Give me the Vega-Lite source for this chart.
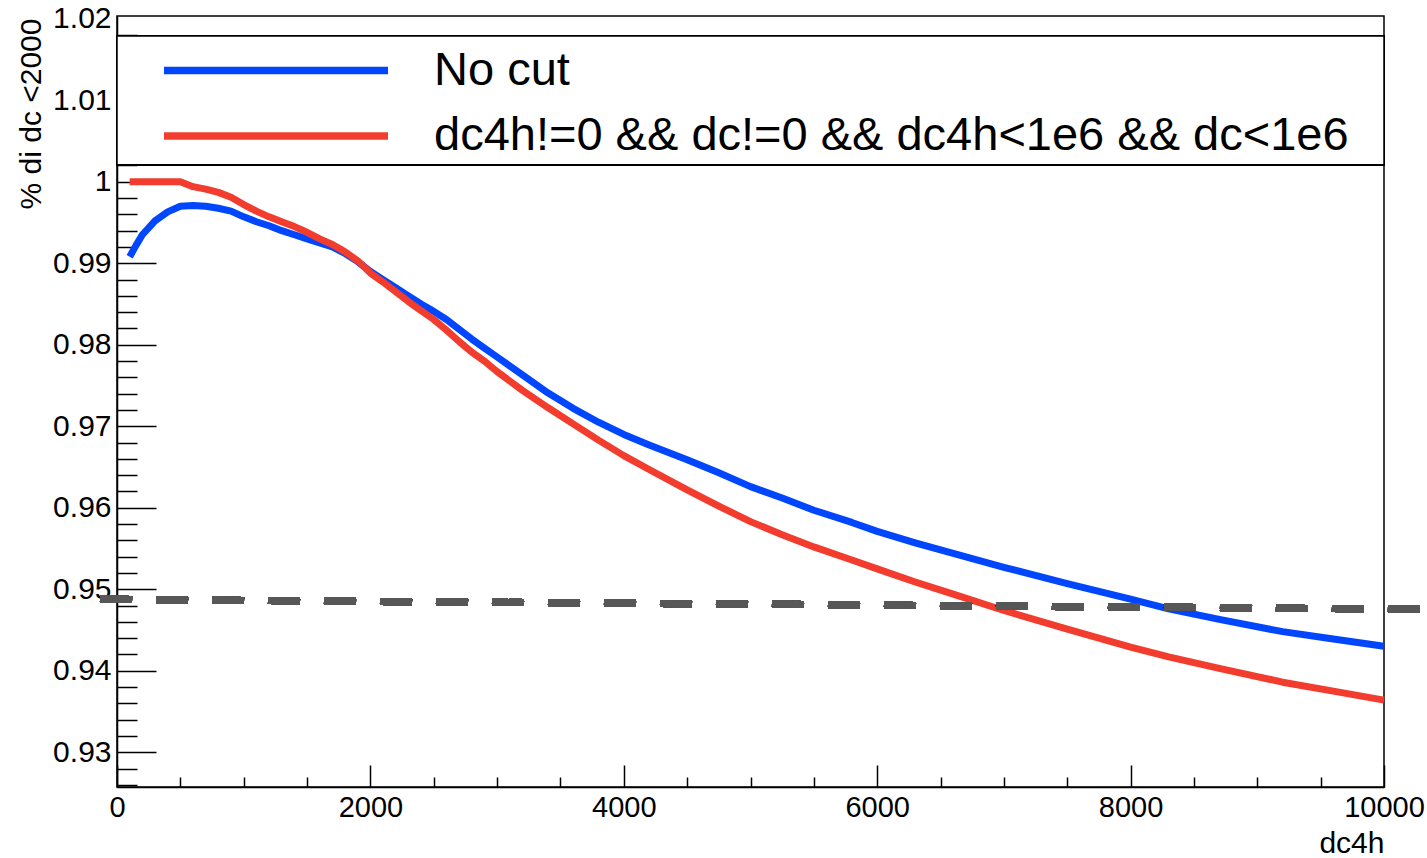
{
  "$schema": "https://vega.github.io/schema/vega-lite/v6.json",
  "width": 1267,
  "height": 771,
  "autosize": {"type": "none"},
  "padding": {"left": 117, "top": 16, "right": 43, "bottom": 71},
  "background": "white",
  "config": {
    "view": {"stroke": "black", "strokeWidth": 1.5},
    "font": "Liberation Sans"
  },
  "datasets": {
    "curves": [
      {"dc4h": 100, "frac": 0.9908, "series": "No cut"},
      {"dc4h": 150, "frac": 0.9922, "series": "No cut"},
      {"dc4h": 200, "frac": 0.9935, "series": "No cut"},
      {"dc4h": 300, "frac": 0.9952, "series": "No cut"},
      {"dc4h": 400, "frac": 0.9963, "series": "No cut"},
      {"dc4h": 500, "frac": 0.9970, "series": "No cut"},
      {"dc4h": 600, "frac": 0.9971, "series": "No cut"},
      {"dc4h": 700, "frac": 0.9970, "series": "No cut"},
      {"dc4h": 800, "frac": 0.99675, "series": "No cut"},
      {"dc4h": 900, "frac": 0.9964, "series": "No cut"},
      {"dc4h": 1000, "frac": 0.9957, "series": "No cut"},
      {"dc4h": 1100, "frac": 0.9951, "series": "No cut"},
      {"dc4h": 1200, "frac": 0.9946, "series": "No cut"},
      {"dc4h": 1300, "frac": 0.9940, "series": "No cut"},
      {"dc4h": 1400, "frac": 0.9935, "series": "No cut"},
      {"dc4h": 1500, "frac": 0.9930, "series": "No cut"},
      {"dc4h": 1600, "frac": 0.9925, "series": "No cut"},
      {"dc4h": 1700, "frac": 0.9920, "series": "No cut"},
      {"dc4h": 1800, "frac": 0.9912, "series": "No cut"},
      {"dc4h": 1900, "frac": 0.9902, "series": "No cut"},
      {"dc4h": 2000, "frac": 0.9890, "series": "No cut"},
      {"dc4h": 2100, "frac": 0.9880, "series": "No cut"},
      {"dc4h": 2200, "frac": 0.9870, "series": "No cut"},
      {"dc4h": 2300, "frac": 0.9860, "series": "No cut"},
      {"dc4h": 2400, "frac": 0.9850, "series": "No cut"},
      {"dc4h": 2500, "frac": 0.9841, "series": "No cut"},
      {"dc4h": 2600, "frac": 0.9831, "series": "No cut"},
      {"dc4h": 2700, "frac": 0.9819, "series": "No cut"},
      {"dc4h": 2800, "frac": 0.9807, "series": "No cut"},
      {"dc4h": 2900, "frac": 0.9796, "series": "No cut"},
      {"dc4h": 3000, "frac": 0.9785, "series": "No cut"},
      {"dc4h": 3200, "frac": 0.9763, "series": "No cut"},
      {"dc4h": 3400, "frac": 0.9741, "series": "No cut"},
      {"dc4h": 3600, "frac": 0.9722, "series": "No cut"},
      {"dc4h": 3800, "frac": 0.9705, "series": "No cut"},
      {"dc4h": 4000, "frac": 0.9690, "series": "No cut"},
      {"dc4h": 4200, "frac": 0.9677, "series": "No cut"},
      {"dc4h": 4500, "frac": 0.9659, "series": "No cut"},
      {"dc4h": 4750, "frac": 0.9643, "series": "No cut"},
      {"dc4h": 5000, "frac": 0.9626, "series": "No cut"},
      {"dc4h": 5250, "frac": 0.9612, "series": "No cut"},
      {"dc4h": 5500, "frac": 0.9597, "series": "No cut"},
      {"dc4h": 5800, "frac": 0.9582, "series": "No cut"},
      {"dc4h": 6000, "frac": 0.9571, "series": "No cut"},
      {"dc4h": 6300, "frac": 0.9557, "series": "No cut"},
      {"dc4h": 6600, "frac": 0.9544, "series": "No cut"},
      {"dc4h": 7000, "frac": 0.9527, "series": "No cut"},
      {"dc4h": 7500, "frac": 0.9507, "series": "No cut"},
      {"dc4h": 8000, "frac": 0.9488, "series": "No cut"},
      {"dc4h": 8300, "frac": 0.9476, "series": "No cut"},
      {"dc4h": 8700, "frac": 0.9463, "series": "No cut"},
      {"dc4h": 9200, "frac": 0.9448, "series": "No cut"},
      {"dc4h": 9600, "frac": 0.9439, "series": "No cut"},
      {"dc4h": 10000, "frac": 0.9430, "series": "No cut"},
      {"dc4h": 100, "frac": 1.0000, "series": "dc4h!=0 && dc!=0 && dc4h<1e6 && dc<1e6"},
      {"dc4h": 200, "frac": 1.0000, "series": "dc4h!=0 && dc!=0 && dc4h<1e6 && dc<1e6"},
      {"dc4h": 300, "frac": 1.0000, "series": "dc4h!=0 && dc!=0 && dc4h<1e6 && dc<1e6"},
      {"dc4h": 400, "frac": 1.0000, "series": "dc4h!=0 && dc!=0 && dc4h<1e6 && dc<1e6"},
      {"dc4h": 500, "frac": 1.0000, "series": "dc4h!=0 && dc!=0 && dc4h<1e6 && dc<1e6"},
      {"dc4h": 600, "frac": 0.9994, "series": "dc4h!=0 && dc!=0 && dc4h<1e6 && dc<1e6"},
      {"dc4h": 700, "frac": 0.9991, "series": "dc4h!=0 && dc!=0 && dc4h<1e6 && dc<1e6"},
      {"dc4h": 800, "frac": 0.9987, "series": "dc4h!=0 && dc!=0 && dc4h<1e6 && dc<1e6"},
      {"dc4h": 900, "frac": 0.9981, "series": "dc4h!=0 && dc!=0 && dc4h<1e6 && dc<1e6"},
      {"dc4h": 1000, "frac": 0.9972, "series": "dc4h!=0 && dc!=0 && dc4h<1e6 && dc<1e6"},
      {"dc4h": 1100, "frac": 0.9964, "series": "dc4h!=0 && dc!=0 && dc4h<1e6 && dc<1e6"},
      {"dc4h": 1200, "frac": 0.9957, "series": "dc4h!=0 && dc!=0 && dc4h<1e6 && dc<1e6"},
      {"dc4h": 1300, "frac": 0.9951, "series": "dc4h!=0 && dc!=0 && dc4h<1e6 && dc<1e6"},
      {"dc4h": 1400, "frac": 0.9945, "series": "dc4h!=0 && dc!=0 && dc4h<1e6 && dc<1e6"},
      {"dc4h": 1500, "frac": 0.9938, "series": "dc4h!=0 && dc!=0 && dc4h<1e6 && dc<1e6"},
      {"dc4h": 1600, "frac": 0.9930, "series": "dc4h!=0 && dc!=0 && dc4h<1e6 && dc<1e6"},
      {"dc4h": 1700, "frac": 0.9923, "series": "dc4h!=0 && dc!=0 && dc4h<1e6 && dc<1e6"},
      {"dc4h": 1800, "frac": 0.9914, "series": "dc4h!=0 && dc!=0 && dc4h<1e6 && dc<1e6"},
      {"dc4h": 1900, "frac": 0.9903, "series": "dc4h!=0 && dc!=0 && dc4h<1e6 && dc<1e6"},
      {"dc4h": 2000, "frac": 0.9888, "series": "dc4h!=0 && dc!=0 && dc4h<1e6 && dc<1e6"},
      {"dc4h": 2100, "frac": 0.9877, "series": "dc4h!=0 && dc!=0 && dc4h<1e6 && dc<1e6"},
      {"dc4h": 2200, "frac": 0.9865, "series": "dc4h!=0 && dc!=0 && dc4h<1e6 && dc<1e6"},
      {"dc4h": 2300, "frac": 0.9853, "series": "dc4h!=0 && dc!=0 && dc4h<1e6 && dc<1e6"},
      {"dc4h": 2400, "frac": 0.9842, "series": "dc4h!=0 && dc!=0 && dc4h<1e6 && dc<1e6"},
      {"dc4h": 2500, "frac": 0.9831, "series": "dc4h!=0 && dc!=0 && dc4h<1e6 && dc<1e6"},
      {"dc4h": 2600, "frac": 0.9818, "series": "dc4h!=0 && dc!=0 && dc4h<1e6 && dc<1e6"},
      {"dc4h": 2700, "frac": 0.9804, "series": "dc4h!=0 && dc!=0 && dc4h<1e6 && dc<1e6"},
      {"dc4h": 2800, "frac": 0.9791, "series": "dc4h!=0 && dc!=0 && dc4h<1e6 && dc<1e6"},
      {"dc4h": 2900, "frac": 0.9780, "series": "dc4h!=0 && dc!=0 && dc4h<1e6 && dc<1e6"},
      {"dc4h": 3000, "frac": 0.9767, "series": "dc4h!=0 && dc!=0 && dc4h<1e6 && dc<1e6"},
      {"dc4h": 3200, "frac": 0.9744, "series": "dc4h!=0 && dc!=0 && dc4h<1e6 && dc<1e6"},
      {"dc4h": 3400, "frac": 0.9723, "series": "dc4h!=0 && dc!=0 && dc4h<1e6 && dc<1e6"},
      {"dc4h": 3600, "frac": 0.9703, "series": "dc4h!=0 && dc!=0 && dc4h<1e6 && dc<1e6"},
      {"dc4h": 3800, "frac": 0.9683, "series": "dc4h!=0 && dc!=0 && dc4h<1e6 && dc<1e6"},
      {"dc4h": 4000, "frac": 0.9664, "series": "dc4h!=0 && dc!=0 && dc4h<1e6 && dc<1e6"},
      {"dc4h": 4200, "frac": 0.9647, "series": "dc4h!=0 && dc!=0 && dc4h<1e6 && dc<1e6"},
      {"dc4h": 4500, "frac": 0.9622, "series": "dc4h!=0 && dc!=0 && dc4h<1e6 && dc<1e6"},
      {"dc4h": 4750, "frac": 0.9602, "series": "dc4h!=0 && dc!=0 && dc4h<1e6 && dc<1e6"},
      {"dc4h": 5000, "frac": 0.9583, "series": "dc4h!=0 && dc!=0 && dc4h<1e6 && dc<1e6"},
      {"dc4h": 5250, "frac": 0.9567, "series": "dc4h!=0 && dc!=0 && dc4h<1e6 && dc<1e6"},
      {"dc4h": 5500, "frac": 0.9552, "series": "dc4h!=0 && dc!=0 && dc4h<1e6 && dc<1e6"},
      {"dc4h": 5800, "frac": 0.9536, "series": "dc4h!=0 && dc!=0 && dc4h<1e6 && dc<1e6"},
      {"dc4h": 6000, "frac": 0.9525, "series": "dc4h!=0 && dc!=0 && dc4h<1e6 && dc<1e6"},
      {"dc4h": 6300, "frac": 0.9509, "series": "dc4h!=0 && dc!=0 && dc4h<1e6 && dc<1e6"},
      {"dc4h": 6600, "frac": 0.9494, "series": "dc4h!=0 && dc!=0 && dc4h<1e6 && dc<1e6"},
      {"dc4h": 7000, "frac": 0.9474, "series": "dc4h!=0 && dc!=0 && dc4h<1e6 && dc<1e6"},
      {"dc4h": 7500, "frac": 0.9451, "series": "dc4h!=0 && dc!=0 && dc4h<1e6 && dc<1e6"},
      {"dc4h": 8000, "frac": 0.9429, "series": "dc4h!=0 && dc!=0 && dc4h<1e6 && dc<1e6"},
      {"dc4h": 8300, "frac": 0.9417, "series": "dc4h!=0 && dc!=0 && dc4h<1e6 && dc<1e6"},
      {"dc4h": 8700, "frac": 0.9403, "series": "dc4h!=0 && dc!=0 && dc4h<1e6 && dc<1e6"},
      {"dc4h": 9200, "frac": 0.9386, "series": "dc4h!=0 && dc!=0 && dc4h<1e6 && dc<1e6"},
      {"dc4h": 9600, "frac": 0.9375, "series": "dc4h!=0 && dc!=0 && dc4h<1e6 && dc<1e6"},
      {"dc4h": 10000, "frac": 0.9364, "series": "dc4h!=0 && dc!=0 && dc4h<1e6 && dc<1e6"}
    ]
  },
  "data": {"name": "curves"},
  "layer": [
    {
      "mark": {"type": "line", "strokeWidth": 7, "strokeJoin": "round", "strokeCap": "butt"},
      "encoding": {
        "x": {
          "field": "dc4h", "type": "quantitative",
          "scale": {"domain": [0, 10000], "nice": false, "zero": false},
          "axis": {
            "values": [0, 500, 1000, 1500, 2000, 2500, 3000, 3500, 4000, 4500, 5000, 5500, 6000, 6500, 7000, 7500, 8000, 8500, 9000, 9500, 10000],
            "tickCount": 200,
            "format": "d",
            "labelExpr": "datum.value % 2000 === 0 ? datum.label : ''",
            "tickSize": {"condition": {"test": "datum.value % 2000 === 0", "value": -22}, "value": -10},
            "tickColor": "black", "tickWidth": 1.5,
            "domainColor": "black", "domainWidth": 1.5,
            "grid": false,
            "labelFont": "Liberation Sans", "labelFontSize": 29, "labelColor": "black",
            "labelPadding": 28, "labelFlush": false, "labelOverlap": false,
            "title": "dc4h",
            "titleFont": "Liberation Sans", "titleFontSize": 30, "titleFontWeight": "normal", "titleColor": "black",
            "titleX": 1267, "titleY": 65, "titleAlign": "right", "titleBaseline": "alphabetic", "titleAnchor": "end",
            "zindex": 0
          }
        },
        "y": {
          "field": "frac", "type": "quantitative",
          "scale": {"domain": [0.92574, 1.02034], "nice": false, "zero": false},
          "axis": {
            "values": [0.926, 0.928, 0.93, 0.932, 0.934, 0.936, 0.938, 0.94, 0.942, 0.944, 0.946, 0.948, 0.95, 0.952, 0.954, 0.956, 0.958, 0.96, 0.962, 0.964, 0.966, 0.968, 0.97, 0.972, 0.974, 0.976, 0.978, 0.98, 0.982, 0.984, 0.986, 0.988, 0.99, 0.992, 0.994, 0.996, 0.998, 1.0, 1.002, 1.004, 1.006, 1.008, 1.01, 1.012, 1.014, 1.016, 1.018, 1.02],
            "tickCount": 200,
            "labelExpr": "abs(datum.value*100 - round(datum.value*100)) < 0.001 ? format(round(datum.value*100)/100, '') : ''",
            "tickSize": {"condition": {"test": "abs(datum.value*100 - round(datum.value*100)) < 0.001", "value": -39}, "value": -20},
            "tickOpacity": {"condition": {"test": "datum.value > 1.019", "value": 0}, "value": 1},
            "tickColor": "black", "tickWidth": 1.5,
            "domainColor": "black", "domainWidth": 1.5,
            "grid": false,
            "labelFont": "Liberation Sans", "labelFontSize": 30, "labelColor": "black",
            "labelPadding": 45, "labelFlush": false, "labelOverlap": false,
            "title": "% di dc <2000",
            "titleFont": "Liberation Sans", "titleFontSize": 30, "titleFontWeight": "normal", "titleColor": "black",
            "titleX": -77, "titleY": 2, "titleAngle": -90, "titleAlign": "right", "titleBaseline": "alphabetic",
            "zindex": 0
          }
        },
        "color": {
          "field": "series", "type": "nominal",
          "scale": {
            "domain": ["No cut", "dc4h!=0 && dc!=0 && dc4h<1e6 && dc<1e6"],
            "range": ["#0046ff", "#f23c2e"]
          },
          "legend": {
            "orient": "none",
            "legendX": 43,
            "legendY": 31.5,
            "title": null,
            "symbolType": "stroke",
            "symbolSize": 50176,
            "symbolStrokeWidth": 7.5,
            "clipHeight": 46,
            "rowPadding": 18.4,
            "labelOffset": 42,
            "labelFont": "Liberation Sans",
            "labelFontSize": 47,
            "labelColor": "black",
            "labelLimit": 2000,
            "padding": 0
          }
        }
      }
    },
    {
      "mark": {"type": "rect", "fill": "white", "stroke": "black", "strokeWidth": 1.5},
      "encoding": {
        "x": {"datum": 0, "type": "quantitative"},
        "x2": {"datum": 10000},
        "y": {"datum": 1.0179, "type": "quantitative"},
        "y2": {"datum": 1.0021}
      }
    },
    {
      "mark": {"type": "rule", "color": "#575757", "strokeWidth": 7, "strokeDash": [32, 24], "strokeCap": "butt"},
      "encoding": {
        "x": {"datum": -134, "type": "quantitative"},
        "x2": {"datum": 10292},
        "y": {"datum": 0.94877, "type": "quantitative"},
        "y2": {"datum": 0.94755}
      }
    }
  ]
}
